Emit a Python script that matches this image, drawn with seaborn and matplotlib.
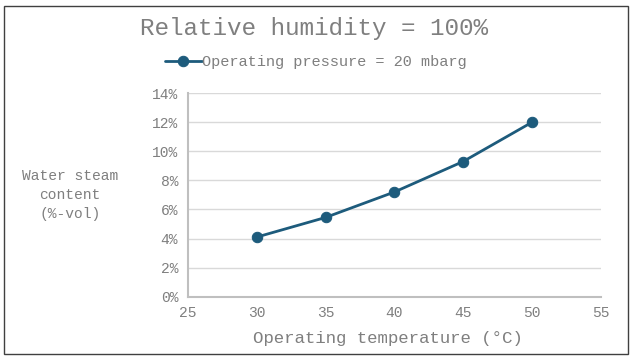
import matplotlib
matplotlib.use("Agg")
import matplotlib.pyplot as plt
import matplotlib.patches as mpatches
from matplotlib.ticker import FuncFormatter, MultipleLocator
import seaborn as sns
import pandas as pd

temperatures = [30, 35, 40, 45, 50]
steam_content = [4.1, 5.45, 7.2, 9.3, 12.0]
series_label = "Operating pressure = 20 mbarg"
title = "Relative humidity = 100%"
x_label = "Operating temperature (°C)"
y_label = "Water steam\ncontent\n(%-vol)"

sns.set_style("white")
plt.rcParams['font.family'] = ['Liberation Mono', 'DejaVu Sans Mono']

text_color = "#7f7f7f"
line_color = "#1d5b7c"

df = pd.DataFrame({"temp": temperatures, "steam": steam_content})

fig = plt.figure(figsize=(6.35, 3.6), dpi=100)
ax = fig.add_axes([0.296, 0.176, 0.650, 0.565])

sns.lineplot(data=df, x="temp", y="steam", ax=ax, color=line_color,
             linewidth=2.0, marker="o", markersize=7.5,
             markeredgecolor=line_color, label=series_label)

ax.set_xlim(25, 55)
ax.set_ylim(0, 14)
ax.xaxis.set_major_locator(MultipleLocator(5))
ax.yaxis.set_major_locator(MultipleLocator(2))
ax.yaxis.set_major_formatter(FuncFormatter(lambda v, p: f"{v:.0f}%"))
ax.grid(axis="y", color="#d9d9d9", linewidth=1)
ax.grid(axis="x", visible=False)
for s in ["top", "right"]:
    ax.spines[s].set_visible(False)
for s in ["left", "bottom"]:
    ax.spines[s].set_color("#bfbfbf")
    ax.spines[s].set_linewidth(1.5)
ax.tick_params(axis="x", length=0, labelsize=10.5, colors=text_color, pad=6.5)
ax.tick_params(axis="y", length=0, labelsize=10.5, colors=text_color, pad=7)
ax.set_xlabel("")
ax.set_ylabel("")

fig.text(0.611, 0.061, x_label, ha="center", va="center", fontsize=12.5, color=text_color)
fig.text(0.110, 0.458, y_label, ha="center", va="center", fontsize=10.5, color=text_color,
         linespacing=1.45)
fig.text(0.495, 0.922, title, ha="center", va="center", fontsize=17.5, color=text_color)

leg = ax.legend(loc="center", bbox_to_anchor=(0.497, 0.828), bbox_transform=fig.transFigure,
                frameon=False, fontsize=11, handlelength=2.4, handletextpad=0.0,
                borderpad=0, labelcolor=text_color)

fig.patches.append(mpatches.Rectangle((4/635, 1 - 354/360), 624/635, 348/360,
                                      transform=fig.transFigure, fill=False,
                                      edgecolor="#404040", linewidth=1))

fig.savefig("out.png", dpi=100)
